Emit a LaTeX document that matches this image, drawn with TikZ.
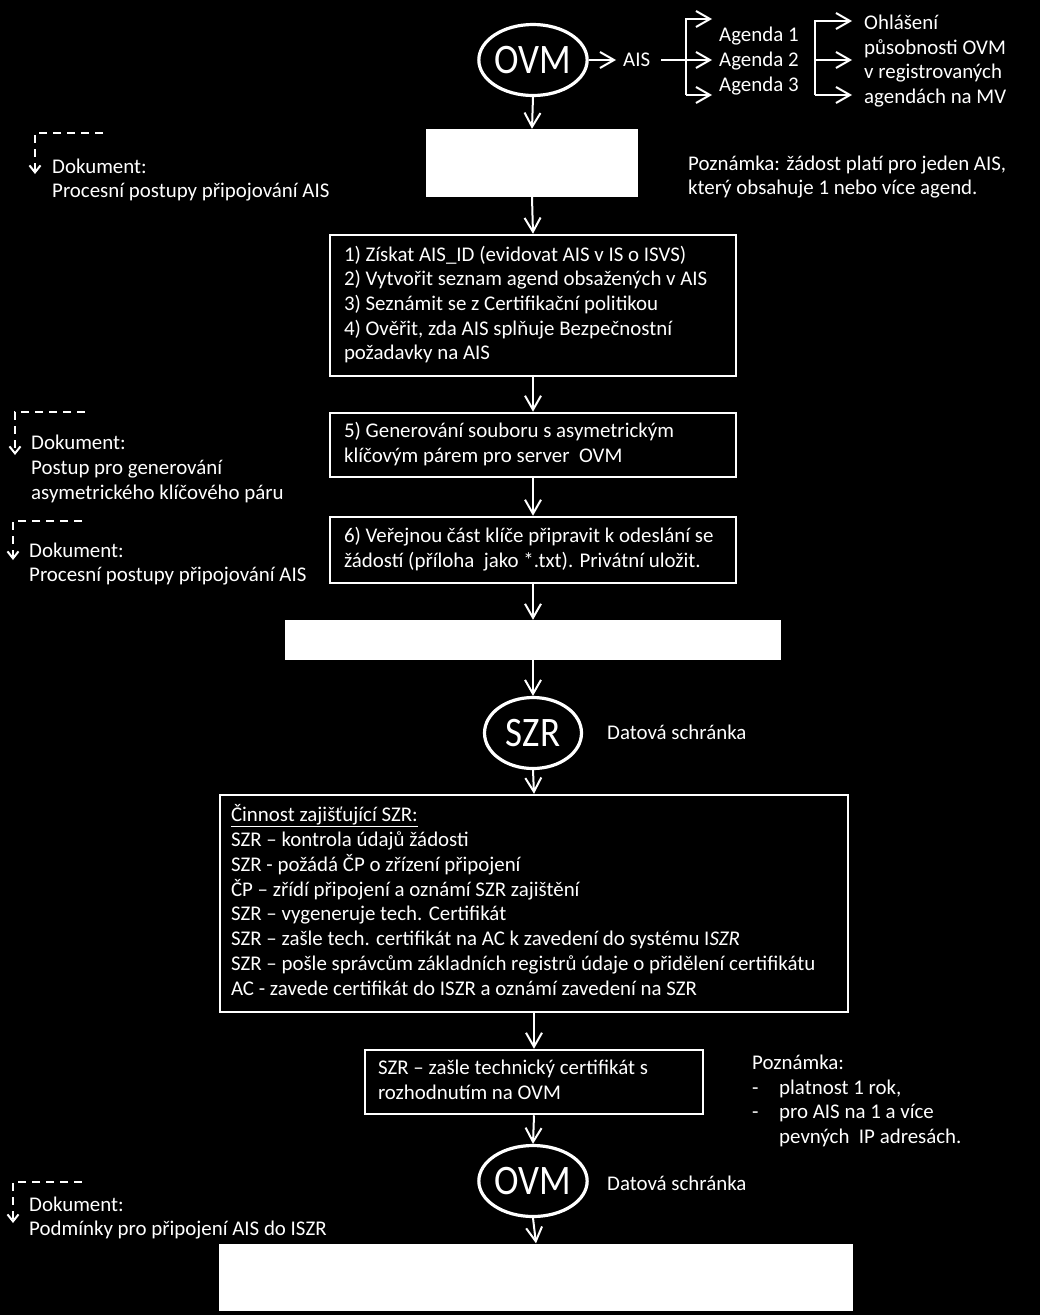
\documentclass[tikz,border=0pt]{standalone}
\usepackage{fontspec}
\setmainfont{Carlito}
\newfontfamily\condfont[FakeStretch=0.88]{Carlito}
\usetikzlibrary{arrows.meta,shapes.geometric}
\begin{document}
\begin{tikzpicture}[x=1pt,y=-1pt,
  txt/.style={text=white, inner sep=0pt, align=flush left,
    font=\fontsize{20.9}{24.8}\selectfont,
    execute at begin node=\strut, execute at end node=\strut},
  procbox/.style={draw=white, line width=2.5pt, fill=black, text=white,
    align=flush left, inner ysep=0pt, font=\fontsize{20.9}{24.6}\selectfont,
    execute at begin node=\strut, execute at end node=\strut},
  blank/.style={fill=white, draw=none, inner sep=0pt},
  oval/.style={ellipse, draw=white, line width=3.2pt, fill=black, text=white,
    minimum width=97pt, minimum height=71pt, inner sep=0pt,
    font=\condfont\fontsize{42}{46}\selectfont},
  conn/.style={draw=white, line width=2pt,
    -{Straight Barb[length=14pt,width=16pt]}},
  plain/.style={draw=white, line width=2pt},
  dnote/.style={draw=white, line width=2pt, dash pattern=on 8pt off 6pt,
    -{Straight Barb[length=7pt,width=11pt]}}
]
\fill[black] (0,0) rectangle (1040,1315);
\useasboundingbox (0,0) rectangle (1040,1315);

% ---- top OVM and AIS / agendas
\node[oval] (ovm1) at (533,60) {OVM};
\node[txt, anchor=west] (ais) at (623,62) {AIS};
\draw[conn] (ovm1.east) -- ([xshift=-7pt]ovm1.east -| ais.west);
\coordinate (b1) at (686,60);
\coordinate (aisr) at (661,60);
\coordinate (b1t) at (686,19);
\coordinate (b1b) at (686,95);
\coordinate (a1) at (712,19);
\coordinate (a2) at (712,60);
\coordinate (a3) at (712,95);
\draw[plain] (aisr) -- (b1);
\draw[conn] (b1b) -- (b1t) -- (a1);
\draw[conn] (b1) -- (a2);
\draw[conn] (b1b) -- (a3);
\node[txt, anchor=west] (agendy) at (719,63) {Agenda 1\\Agenda 2\\Agenda 3};
\coordinate (b2t) at (815,21);
\coordinate (b2m) at (815,60);
\coordinate (b2b) at (815,95);
\coordinate (c1) at (852,21);
\coordinate (c2) at (852,60);
\coordinate (c3) at (852,95);
\draw[conn] (b2b) -- (b2t) -- (c1);
\draw[conn] (b2m) -- (c2);
\draw[conn] (b2b) -- (c3);
\node[txt, anchor=west] (ohl) at (864,63) {Ohlášení\\působnosti OVM\\v registrovaných\\agendách na MV};

% ---- blank box 1 and notes
\node[blank, minimum width=212pt, minimum height=68pt] (blank1) at (532,163) {};
\draw[conn] (ovm1.south) -- (blank1.north);
\node[txt, anchor=west] (pozn1) at (688,179) {Poznámka: žádost platí pro jeden AIS,\\který obsahuje 1 nebo více agend.};
\coordinate (d1s) at (103,133);
\coordinate (d1e) at (35,174);
\draw[dnote] (d1s) -| (d1e);
\node[txt, anchor=west] (dok1) at (52,182) {Dokument:\\Procesní postupy připojování AIS};

% ---- step boxes
\node[procbox, text width=378pt, inner xsep=14pt, minimum height=141pt] (s14) at (533,305.5)
  {1) Získat AIS\_ID (evidovat AIS v IS o ISVS)\\2) Vytvořit seznam agend obsažených v AIS\\3) Seznámit se z Certifikační politikou\\4) Ověřit, zda AIS splňuje Bezpečnostní\\požadavky na AIS};
\draw[conn] (blank1.south) -- (s14.north);

\node[procbox, text width=378pt, inner xsep=14pt, minimum height=64pt] (s5) at (533,445)
  {5) Generování souboru s asymetrickým\\klíčovým párem pro server\ \ OVM};
\draw[conn] (s14.south) -- (s5.north);

\node[procbox, text width=378pt, inner xsep=14pt, minimum height=66pt] (s6) at (533,550)
  {6) Veřejnou část klíče připravit k odeslání se\\žádostí (příloha\ \ jako *.txt). Privátní uložit.};
\draw[conn] (s5.south) -- (s6.north);

\coordinate (d2s) at (85,412);
\coordinate (d2e) at (15,455);
\draw[dnote] (d2s) -| (d2e);
\node[txt, anchor=west] (dok2) at (31,471) {Dokument:\\Postup pro generování\\asymetrického klíčového páru};

\coordinate (d3s) at (82,521);
\coordinate (d3e) at (13,560);
\draw[dnote] (d3s) -| (d3e);
\node[txt, anchor=west] (dok3) at (29,566) {Dokument:\\Procesní postupy připojování AIS};

% ---- blank box 2 and SZR
\node[blank, minimum width=496pt, minimum height=40pt] (blank2) at (533,640) {};
\draw[conn] (s6.south) -- (blank2.north);
\node[oval] (szr) at (533,733) {SZR};
\draw[conn] (blank2.south) -- (szr.north);
\node[txt, anchor=west] (ds1) at (607,735) {Datová schránka};

\node[procbox, text width=606pt, inner xsep=11pt, minimum height=217pt, font=\fontsize{20.9}{24.8}\selectfont] (czr) at (534,903.5)
  {\underline{Činnost zajišťující SZR:}\\
   SZR – kontrola údajů žádosti\\
   SZR - požádá ČP o zřízení připojení\\
   ČP – zřídí připojení a oznámí SZR zajištění\\
   SZR – vygeneruje tech. Certifikát\\
   SZR – zašle tech. certifikát na AC k zavedení do systému I\textit{SZR}\\
   SZR – pošle správcům základních registrů údaje o přidělení certifikátu\\
   AC - zavede certifikát do ISZR a oznámí zavedení na SZR};
\draw[conn] (szr.south) -- (czr.north);

\node[procbox, text width=312pt, inner xsep=13pt, minimum height=64pt] (cert) at (534,1082)
  {SZR – zašle technický certifikát s\\rozhodnutím na OVM};
\draw[conn] (czr.south) -- (cert.north);

\node[txt, anchor=west] (pozn2) at (752,1103)
  {Poznámka:\\\makebox[27pt][l]{-}platnost 1 rok,\\\makebox[27pt][l]{-}pro AIS na 1 a více\\\hspace*{27pt}pevných\ \ IP adresách.};

\node[oval] (ovm2) at (533,1181) {OVM};
\draw[conn] (cert.south) -- (ovm2.north);
\node[txt, anchor=west] (ds2) at (607,1186) {Datová schránka};

\node[blank, minimum width=634pt, minimum height=67pt] (blank3) at (536,1277) {};
\draw[conn] (ovm2.south) -- (blank3.north);

\coordinate (d4s) at (82,1182);
\coordinate (d4e) at (13,1223);
\draw[dnote] (d4s) -| (d4e);
\node[txt, anchor=west] (dok4) at (29,1220) {Dokument:\\Podmínky pro připojení AIS do ISZR};
\end{tikzpicture}
\end{document}
